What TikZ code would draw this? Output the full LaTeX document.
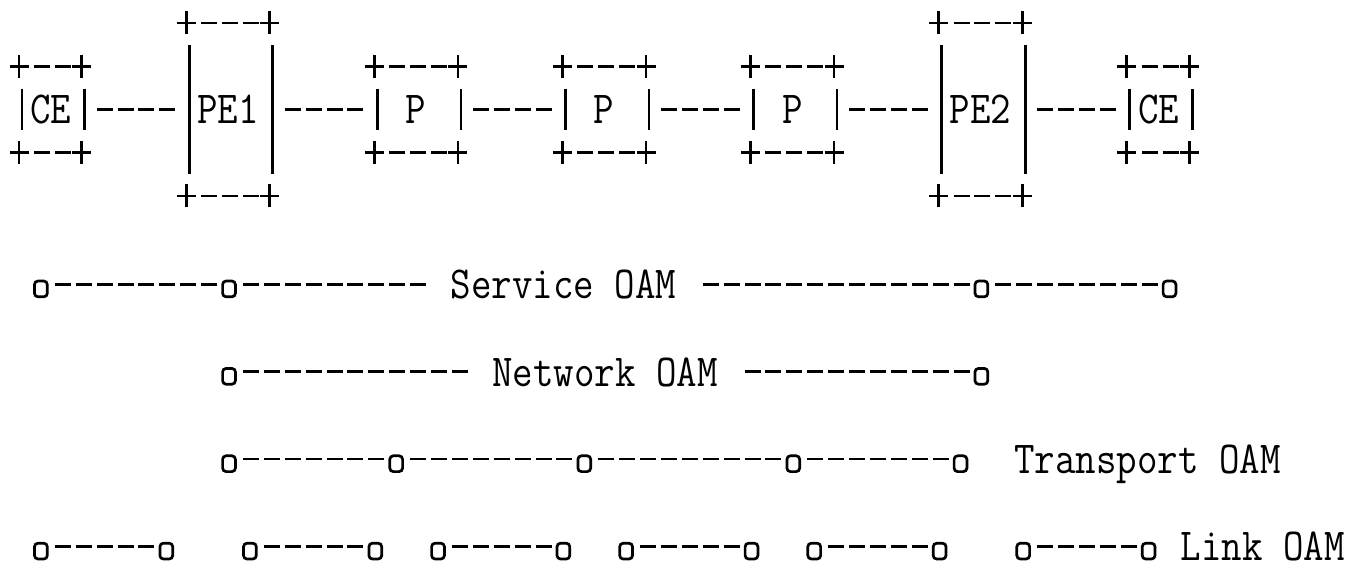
\documentclass[tikz,border=0pt]{standalone}
\usepackage{graphicx}
\newcommand\asctxt[1]{\scalebox{1}[1.15]{\fontsize{39.8pt}{46pt}\selectfont\ttfamily #1}}
\tikzset{
  ln/.style={line width=2.7pt, draw=black},
  dl/.style={ln, dash pattern=on 16pt off 4.9pt},
  asciibox/.style={rectangle, draw=none, inner sep=0pt, outer sep=0pt,
    text height=29pt, text depth=0pt},
  smallbox/.style={asciibox, minimum height=41.6pt},
  tallbox/.style={asciibox, minimum height=129pt},
  oend/.style={rectangle, draw=none, inner sep=0pt, outer sep=0pt,
    minimum width=12.8pt, minimum height=15.8pt, xshift=-2pt,
    append after command={\pgfextra{\draw[ln, rounded corners=3.5pt]
      ([yshift=-4.7pt]\tikzlastnode.north west) rectangle
      ([yshift=-4.7pt]\tikzlastnode.south east);}}},
  oamlink/.style={dl, shorten <=7.5pt, shorten >=5.5pt},
  boxlink/.style={dl, shorten <=11.9pt, shorten >=13.9pt},
  oamlabel/.style={inner sep=0pt, outer sep=0pt, xshift=-3pt,
    text height=29pt, text depth=0pt},
  onlinelabel/.style={inner ysep=0pt, outer sep=0pt, xshift=-2pt,
    text height=29pt, text depth=0pt, fill=white, inner xsep=22pt}
}
\newcommand\boxdeco[1]{%
  \draw[ln] (#1.north west) -- (#1.south west);
  \draw[ln] (#1.north east) -- (#1.south east);
  \foreach \cn/\sg in {north west/1, north east/1, south west/-1, south east/-1}{
    \draw[ln] ([shift={(-12.5pt,\sg*22pt)}]#1.\cn) -- ++(19pt,0pt);
    \draw[ln] ([shift={(-3pt,\sg*22pt-11.5pt)}]#1.\cn) -- ++(0pt,23pt);
  }
  \draw[boxlink] ([yshift=22pt]#1.north west) -- ([yshift=22pt]#1.north east);
  \draw[boxlink] ([yshift=-22pt]#1.south west) -- ([yshift=-22pt]#1.south east);
}
\begin{document}
\begin{tikzpicture}[x=20.9pt, y=-43.7pt]
\useasboundingbox (-22pt,22pt) rectangle (1329pt,-544pt);
% boxes
\node[smallbox, minimum width=62.7pt] (CE1) at (1.5,2) {\kern-5pt\asctxt{CE}};
\node[tallbox,  minimum width=83.6pt] (PE1) at (10,2) {\kern-6pt\asctxt{PE1}};
\node[smallbox, minimum width=83.6pt] (P1) at (19,2) {\kern-6pt\asctxt{P}};
\node[smallbox, minimum width=83.6pt] (P2) at (28,2) {\kern-6pt\asctxt{P}};
\node[smallbox, minimum width=83.6pt] (P3) at (37,2) {\kern-6pt\asctxt{P}};
\node[tallbox,  minimum width=83.6pt] (PE2) at (46,2) {\kern-6pt\asctxt{PE2}};
\node[smallbox, minimum width=62.7pt] (CE2) at (54.5,2) {\kern-5pt\asctxt{CE}};
\foreach \b in {CE1,PE1,P1,P2,P3,PE2,CE2}{\boxdeco{\b}}
\draw[boxlink] (CE1.east) -- (PE1.west);
\draw[boxlink] (PE1.east) -- (P1.west);
\draw[boxlink] (P1.east) -- (P2.west);
\draw[boxlink] (P2.east) -- (P3.west);
\draw[boxlink] (P3.east) -- (PE2.west);
\draw[boxlink] (PE2.east) -- (CE2.west);
% Service OAM
\node[oend] (s1) at (1,6) {};
\node[oend] (s2) at (10,6) {};
\node[oend] (s3) at (46,6) {};
\node[oend] (s4) at (55,6) {};
\draw[oamlink] (s1.east) -- (s2.west);
\draw[oamlink] (s2.east) -- (s3.west);
\draw[oamlink] (s3.east) -- (s4.west);
\node[onlinelabel] (svc) at (26,6) {\asctxt{Service OAM}};
% Network OAM
\node[oend] (n1) at (10,8) {};
\node[oend] (n2) at (46,8) {};
\draw[oamlink] (n1.east) -- (n2.west);
\node[onlinelabel] (net) at (28,8) {\asctxt{Network OAM}};
% Transport OAM
\node[oend] (t1) at (10,10) {};
\node[oend] (t2) at (18,10) {};
\node[oend] (t3) at (27,10) {};
\node[oend] (t4) at (37,10) {};
\node[oend] (t5) at (45,10) {};
\draw[oamlink] (t1.east) -- (t2.west);
\draw[oamlink] (t2.east) -- (t3.west);
\draw[oamlink] (t3.east) -- (t4.west);
\draw[oamlink] (t4.east) -- (t5.west);
\node[oamlabel] (trn) at (54,10) {\asctxt{Transport OAM}};
% Link OAM
\foreach \i/\a/\b in {1/1/7, 2/11/17, 3/20/26, 4/29/35, 5/38/44, 6/48/54}{
  \node[oend] (la\i) at (\a,12) {};
  \node[oend] (lb\i) at (\b,12) {};
  \draw[oamlink] (la\i.east) -- (lb\i.west);
}
\node[oamlabel] (lnk) at (59.5,12) {\asctxt{Link OAM}};
\end{tikzpicture}
\end{document}
